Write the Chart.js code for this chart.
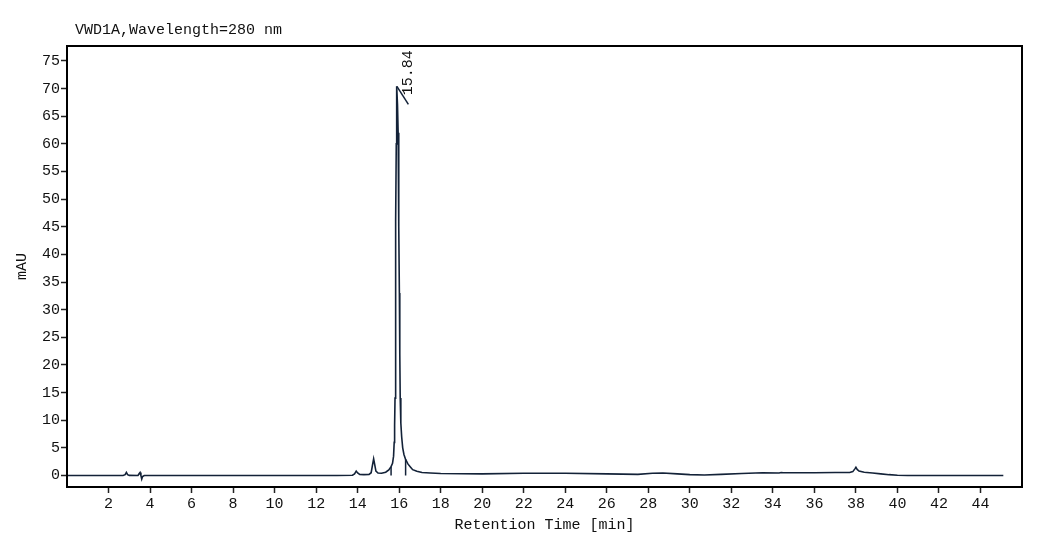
<!DOCTYPE html>
<html lang="en">
<head>
    <meta charset="UTF-8">
    <title>VWD1A chromatogram</title>
    <script src="https://cdn.jsdelivr.net/npm/chart.js"></script>
    <style>
body {
    margin: 0;
    padding: 0;
    background-color: #fff;
}

.chart-container {
    width: 1048px;
    height: 540px;
}
    </style>
</head>
<body>
    <div class="chart-container">
        <canvas id="chromChart"></canvas>
    </div>

    <script>
        // Signal (retention time in min, absorbance in mAU)
        const times = [
            0.00, 2.70, 2.80, 2.86, 2.92, 3.00, 3.42, 3.48, 3.52, 3.56, 3.60, 3.64, 3.72,
            6.00, 10.00, 13.00, 13.75, 13.85, 13.93, 14.00, 14.10, 14.30, 14.55, 14.65,
            14.71, 14.77, 14.82, 14.88, 14.98, 15.15, 15.35, 15.50, 15.61, 15.68, 15.73,
            15.76, 15.78, 15.80, 15.82, 15.84, 15.86, 15.87, 15.89, 15.92, 15.95, 15.97,
            15.99, 16.01, 16.03, 16.05, 16.08, 16.12, 16.17, 16.23, 16.31, 16.42, 16.55,
            16.65, 16.85, 17.10, 17.50, 18.00, 20.00, 22.00, 24.00, 26.00, 27.50, 28.20,
            28.70, 29.40, 30.00, 30.70, 31.50, 32.50, 33.50, 34.30, 34.40, 34.50, 36.00,
            37.00, 37.70, 37.85, 37.95, 38.00, 38.06, 38.15, 38.40, 38.80, 39.20, 39.60,
            40.00, 40.50, 42.00, 45.10
        ];
        const signal = [
            0.00, 0.00, 0.15, 0.55, 0.15, 0.02, 0.00, 0.35, 0.55, 0.00, -0.65, -0.20, 0.00,
            0.00, 0.00, 0.00, 0.05, 0.30, 0.80, 0.45, 0.20, 0.15, 0.20, 0.50,
            1.80, 3.00, 2.00, 0.80, 0.45, 0.40, 0.60, 1.00, 1.60, 2.20, 3.50,
            6.00, 9.00, 14.0, 28.0, 46.0, 60.0, 66.0, 70.4, 67.0, 62.0, 55.0,
            45.0, 33.0, 22.0, 14.0, 9.50, 7.00, 5.00, 3.80, 2.90, 2.10, 1.50,
            1.05, 0.75, 0.55, 0.45, 0.35, 0.30, 0.40, 0.40, 0.30, 0.20, 0.40,
            0.45, 0.30, 0.15, 0.10, 0.20, 0.35, 0.50, 0.45, 0.55, 0.50, 0.50,
            0.55, 0.55, 0.70, 1.20, 1.50, 1.10, 0.80, 0.60, 0.45, 0.30, 0.15,
            0.05, 0.00, 0.00, 0.00
        ];

        // Integration drop lines at the main peak
        const dropTimes = [15.61, 16.31];
        const dropHeights = [1.6, 2.9];

        // Peak label
        const peakLabel = '15.84';

        const xTicks = [2, 4, 6, 8, 10, 12, 14, 16, 18, 20, 22, 24, 26, 28, 30, 32, 34, 36, 38, 40, 42, 44];
        const yTicks = [0, 5, 10, 15, 20, 25, 30, 35, 40, 45, 50, 55, 60, 65, 70, 75];

        const font = { family: "'Liberation Mono', 'DejaVu Sans Mono', monospace", size: 15 };
        const ink = '#111';
        const traceColor = '#132238';

        const points = times.map((t, i) => ({ x: t, y: signal[i] }));

        // Title, frame, drop lines and peak label
        const extrasPlugin = {
            id: 'extras',
            afterDatasetsDraw(chart) {
                const { ctx, chartArea, scales } = chart;
                const xs = scales.x;
                const ys = scales.y;
                ctx.save();

                // drop lines
                ctx.strokeStyle = traceColor;
                ctx.lineWidth = 1.5;
                dropTimes.forEach((t, i) => {
                    const px = xs.getPixelForValue(t);
                    ctx.beginPath();
                    ctx.moveTo(px, ys.getPixelForValue(0));
                    ctx.lineTo(px, ys.getPixelForValue(dropHeights[i]));
                    ctx.stroke();
                });

                // apex marker + label
                let apex = 0;
                signal.forEach((v, i) => { if (v > signal[apex]) apex = i; });
                const ax = xs.getPixelForValue(times[apex]);
                const ay = ys.getPixelForValue(signal[apex]);
                ctx.beginPath();
                ctx.moveTo(ax, ay);
                ctx.lineTo(ax + 11.5, ay + 18);
                ctx.stroke();

                ctx.fillStyle = ink;
                ctx.font = font.size + 'px ' + font.family;
                ctx.translate(ax + 11, ay + 9);
                ctx.rotate(-Math.PI / 2);
                ctx.textAlign = 'left';
                ctx.textBaseline = 'middle';
                ctx.fillText(peakLabel, 0, 0);
                ctx.restore();

                ctx.save();
                // frame
                ctx.strokeStyle = '#000';
                ctx.lineWidth = 2;
                ctx.strokeRect(chartArea.left, chartArea.top,
                    chartArea.right - chartArea.left, chartArea.bottom - chartArea.top);

                // title
                ctx.fillStyle = ink;
                ctx.font = font.size + 'px ' + font.family;
                ctx.textAlign = 'left';
                ctx.textBaseline = 'middle';
                ctx.fillText('VWD1A,Wavelength=280 nm', chartArea.left + 8, 30);
                ctx.restore();
            }
        };

        const ctx = document.getElementById('chromChart').getContext('2d');
        const chromChart = new Chart(ctx, {
            type: 'line',
            data: {
                datasets: [{
                    data: points,
                    borderColor: traceColor,
                    borderWidth: 1.6,
                    pointRadius: 0,
                    tension: 0,
                    fill: false,
                }],
            },
            options: {
                responsive: true,
                maintainAspectRatio: false,
                animation: false,
                layout: {
                    padding: { top: 46, right: 26, left: 0, bottom: 0 },
                },
                plugins: {
                    legend: { display: false },
                    tooltip: { enabled: false },
                    title: { display: false },
                },
                scales: {
                    x: {
                        type: 'linear',
                        min: 0,
                        max: 46,
                        afterBuildTicks: (s) => { s.ticks = xTicks.map(v => ({ value: v })); },
                        afterFit: (s) => { s.height = 53; },
                        grid: {
                            drawOnChartArea: false,
                            drawTicks: true,
                            tickLength: 6,
                            tickWidth: 1.5,
                            tickColor: '#222',
                        },
                        border: { display: false },
                        ticks: {
                            color: ink,
                            font: font,
                            padding: 2,
                            maxRotation: 0,
                            autoSkip: false,
                        },
                        title: {
                            display: true,
                            text: 'Retention Time [min]',
                            color: ink,
                            font: font,
                            padding: { top: 0, bottom: 6 },
                        },
                    },
                    y: {
                        type: 'linear',
                        min: -2.08,
                        max: 77.7,
                        afterBuildTicks: (s) => { s.ticks = yTicks.map(v => ({ value: v })); },
                        afterFit: (s) => { s.width = 67; },
                        grid: {
                            drawOnChartArea: false,
                            drawTicks: true,
                            tickLength: 6,
                            tickWidth: 1.5,
                            tickColor: '#222',
                        },
                        border: { display: false },
                        ticks: {
                            color: ink,
                            font: font,
                            padding: 1,
                            autoSkip: false,
                        },
                        title: {
                            display: true,
                            text: 'mAU',
                            color: ink,
                            font: font,
                            padding: { top: 13, bottom: 0 },
                        },
                    },
                },
            },
            plugins: [extrasPlugin],
        });
    </script>
</body>
</html>
